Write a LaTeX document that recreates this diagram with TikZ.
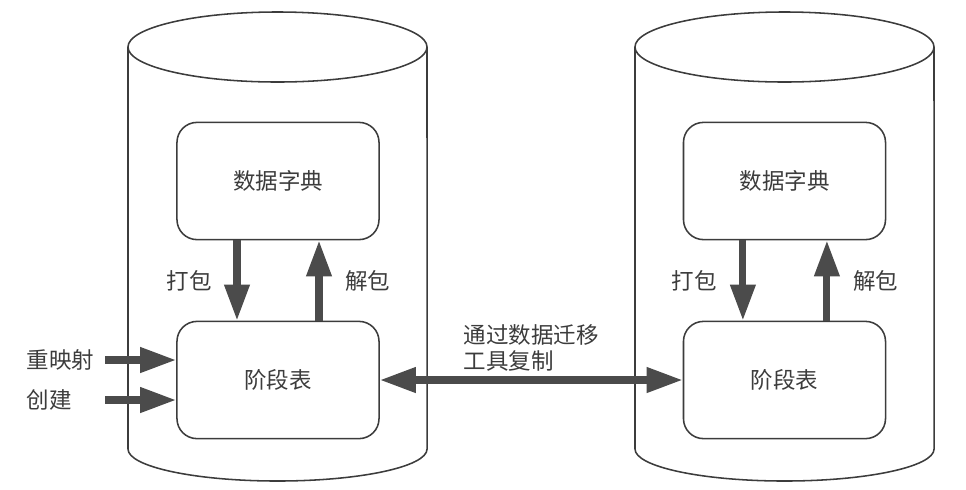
\documentclass[tikz,border=0pt]{standalone}
\usepackage{fontspec}
\setmainfont{Noto Sans CJK SC}
\definecolor{linecolor}{RGB}{60,60,60}
\definecolor{arrowcolor}{RGB}{75,75,75}
\usetikzlibrary{arrows.meta, positioning}

\begin{document}
\begin{tikzpicture}[x=0.025cm, y=-0.025cm,
  box/.style={draw=linecolor, line width=1.1pt, rounded corners=0.5cm, minimum width=5.05cm, minimum height=2.93cm, font=\fontsize{16}{19}\selectfont, text=linecolor},
  bigarrow/.style={draw=arrowcolor, line width=5pt, -{Triangle[length=0.9cm, width=0.6cm]}},
  lbl/.style={font=\fontsize{16}{19}\selectfont, text=linecolor}]
  \useasboundingbox (0,0) rectangle (966,489);

  % Left cylinder
  \draw[linecolor, line width=1.1pt] (277.5,47) ellipse [x radius=3.7375cm, y radius=0.875cm];
  \draw[linecolor, line width=1.1pt] (128,47) -- (128,449) arc[start angle=180, end angle=360, x radius=3.7375cm, y radius=0.8cm] -- (427,47);

  % Right cylinder
  \draw[linecolor, line width=1.1pt] (784.5,47) ellipse [x radius=3.7375cm, y radius=0.875cm];
  \draw[linecolor, line width=1.1pt] (635,47) -- (635,449) arc[start angle=180, end angle=360, x radius=3.7375cm, y radius=0.8cm] -- (934,47);

  % Boxes
  \node[box] (DICTL) at (278,181) {数据字典};
  \node[box] (STAGEL) at (278,380) {阶段表};
  \node[box] (DICTR) at (784.5,181) {数据字典};
  \node[box] (STAGER) at (784.5,380) {阶段表};

  % Pack / unpack
  \draw[bigarrow] ([xshift=-1.025cm]DICTL.south) -- node[midway, left=0.42cm, lbl] {打包} ([xshift=-1.025cm]STAGEL.north);
  \draw[bigarrow] ([xshift=1.025cm]STAGEL.north) -- node[midway, right=0.45cm, lbl] {解包} ([xshift=1.025cm]DICTL.south);
  \draw[bigarrow] ([xshift=-1.04cm]DICTR.south) -- node[midway, left=0.45cm, lbl] {打包} ([xshift=-1.04cm]STAGER.north);
  \draw[bigarrow] ([xshift=1.06cm]STAGER.north) -- node[midway, right=0.45cm, lbl] {解包} ([xshift=1.06cm]DICTR.south);

  % Inputs
  \node[lbl, anchor=west] (REMAP) at (22,360) {重映射};
  \node[lbl, anchor=west] (CREATE) at (22,400) {创建};
  \draw[bigarrow] (105,360) -- (REMAP -| STAGEL.west);
  \draw[bigarrow] (105,400) -- (CREATE -| STAGEL.west);

  % Copy between databases
  \draw[bigarrow, {Triangle[length=0.9cm, width=0.6cm]}-{Triangle[length=0.9cm, width=0.6cm]}] (STAGEL.east) -- node[midway, above=0pt, lbl, align=left] {通过数据迁移\\工具复制} (STAGER.west);
\end{tikzpicture}
\end{document}
